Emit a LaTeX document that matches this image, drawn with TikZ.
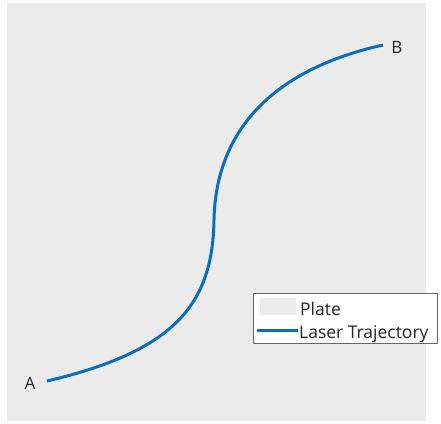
\documentclass[tikz,border=0pt]{standalone}
\usepackage{fontspec}
\setmainfont{Open Sans}
\definecolor{plategray}{HTML}{EBEBEB}
\definecolor{laserblue}{HTML}{0A6EBD}
\definecolor{legendborder}{HTML}{666666}
\begin{document}
\begin{tikzpicture}[x=1pt,y=-1pt,
  plate/.style={fill=plategray,draw=none},
  laser/.style={draw=laserblue,line width=3pt,line join=round},
  ptlabel/.style={font=\fontsize{17}{19}\selectfont,text=black!85,inner sep=0pt},
  legtext/.style={font=\fontsize{17.5}{19}\selectfont,text=black!85,anchor=base west,inner sep=0pt}]
\useasboundingbox (0,0) rectangle (441,423);
\fill[white] (0,0) rectangle (441,423);
\path[plate] (7,3) rectangle (426,421);
% trajectory
\coordinate (a) at (47,381);
\coordinate (m) at (214,220);
\coordinate (b) at (383,45);
\draw[laser] (a) .. controls (180,350) and (212.5,300) .. (m)
  .. controls (215.5,140) and (262,72) .. (b);
\node[ptlabel] (la) at (30,383) {A};
\node[ptlabel] (lb) at (397,47) {B};
% legend
\node[draw=legendborder,fill=white,line width=0.6pt,minimum width=184pt,minimum height=50pt,anchor=north west,inner sep=0pt] (legend) at (253,293) {};
\path[plate] (260,298) rectangle (296,315);
\coordinate (l1) at (257,330);
\coordinate (l2) at (298,330);
\draw[laser] (l1) -- (l2);
\node[legtext] (tp) at (300,315) {Plate};
\node[legtext] (tl) at (299,338) {Laser Trajectory};
\end{tikzpicture}
\end{document}
